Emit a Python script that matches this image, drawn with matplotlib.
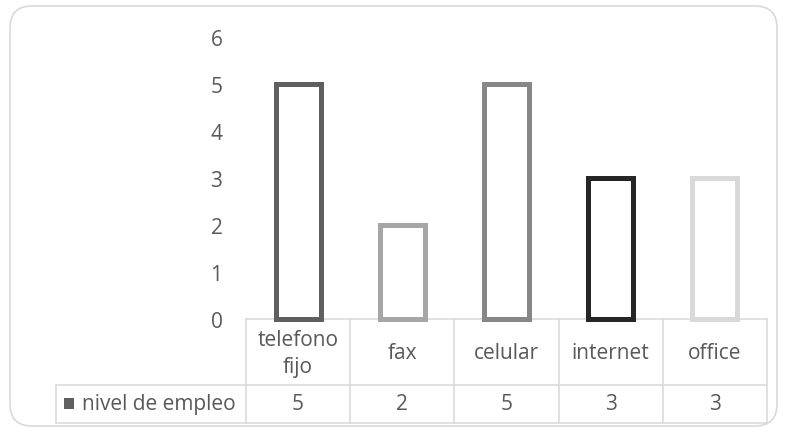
import matplotlib
matplotlib.use("Agg")
import matplotlib.pyplot as plt
from matplotlib.lines import Line2D
from matplotlib.patches import FancyBboxPatch, Rectangle
from matplotlib.transforms import blended_transform_factory

# data
categories = ["telefono\nfijo", "fax", "celular", "internet", "office"]
values = [5, 2, 5, 3, 3]
series_name = "nivel de empleo"
bar_colors = ["#5f5f5f", "#a6a6a6", "#878787", "#262626", "#d9d9d9"]

text_color = "#595959"
grid_color = "#d9d9d9"
fs = 15

plt.rcParams["font.family"] = ["Open Sans", "DejaVu Sans"]

W, H = 786, 435
fig = plt.figure(figsize=(W / 100, H / 100), dpi=100)


def fx(px):
    return px / W


def fy(py):
    return 1 - py / H


# outer rounded frame, kept behind everything
frame = FancyBboxPatch((0.10, 0.08), 7.67, 4.20,
                       boxstyle="round,pad=0,rounding_size=0.22",
                       transform=fig.dpi_scale_trans, facecolor="white",
                       edgecolor=grid_color, linewidth=1.2, zorder=-5)
fig.add_artist(frame)

# plot area spans the table columns
x0, x1 = 246, 767
y_zero, y_top = 320, 38
ax = fig.add_axes([fx(x0), fy(y_zero), fx(x1) - fx(x0), fy(y_top) - fy(y_zero)])
ax.set_facecolor("none")
ax.set_zorder(2)

x = list(range(len(categories)))
bars = ax.bar(x, values, width=0.43, color="white", edgecolor=bar_colors,
              linewidth=3.6, clip_on=False, zorder=3)
for b in bars:
    b.set_joinstyle("miter")

ax.set_xlim(-0.5, len(categories) - 0.5)
ax.set_ylim(0, 6)
ax.set_yticks(range(0, 7))
ax.set_xticks([])
ax.tick_params(axis="y", length=0, pad=17, labelsize=fs, labelcolor=text_color)
for s in ax.spines.values():
    s.set_visible(False)

# data table below the plot
tr = blended_transform_factory(ax.transData, fig.transFigure)
row_top, row_mid, row_bot = 320, 386, 424
lw = 1.1

edges = [i - 0.5 for i in range(len(categories) + 1)]
fig.add_artist(Line2D([edges[0], edges[-1]], [fy(row_top)] * 2, transform=tr,
                      color=grid_color, lw=lw))
for yy in (row_mid, row_bot):
    fig.add_artist(Line2D([fx(56), fx(x1)], [fy(yy)] * 2,
                          transform=fig.transFigure, color=grid_color, lw=lw))
fig.add_artist(Line2D([fx(56)] * 2, [fy(row_mid), fy(row_bot)],
                      transform=fig.transFigure, color=grid_color, lw=lw))
for e in edges:
    fig.add_artist(Line2D([e, e], [fy(row_top), fy(row_bot)], transform=tr,
                          color=grid_color, lw=lw))

for i, (cat, val) in enumerate(zip(categories, values)):
    fig.text(i, fy((row_top + row_mid) / 2 + 1), cat, transform=tr, ha="center",
             va="center", fontsize=fs, color=text_color, linespacing=1.4)
    fig.text(i, fy((row_mid + row_bot) / 2), str(val), transform=tr,
             ha="center", va="center", fontsize=fs, color=text_color)

# legend key in the row header
fig.add_artist(Rectangle((fx(64), fy(410)), fx(74) - fx(64), fy(399) - fy(410),
                         transform=fig.transFigure, facecolor=bar_colors[0],
                         edgecolor="none"))
fig.text(fx(82), fy((row_mid + row_bot) / 2), series_name, ha="left",
         va="center", fontsize=fs, color=text_color)

fig.savefig("out.png", dpi=100)
